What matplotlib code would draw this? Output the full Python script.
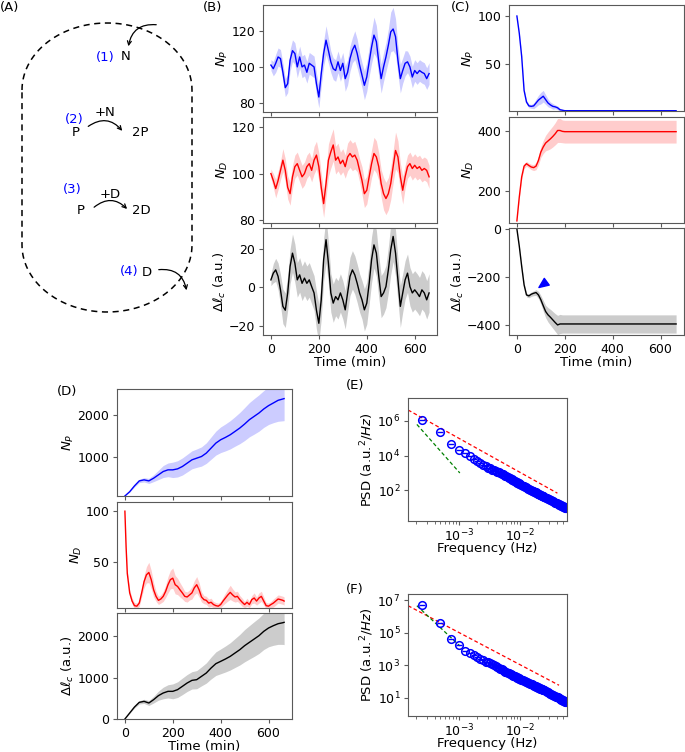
import numpy as np
import matplotlib
matplotlib.use('Agg')
import matplotlib.pyplot as plt
from matplotlib.patches import FancyArrowPatch

# ---------------- data ----------------
# Panel B (oscillating steady state), t = 0..660 min step 10
t_b = np.arange(0, 661, 10)
b_np = [101, 99, 102, 105.5, 104.6, 97, 88.5, 90.7, 103.7, 109,
        107.4, 100, 105.5, 100, 101, 97, 102, 101, 100, 90.7,
        83.3, 96.3, 107.4, 114.8, 109, 102.8, 99, 98, 102.8, 98,
        102, 93.5, 97, 104.6, 109.3, 112, 107.4, 101, 95.4, 89.8,
        94.4, 102.8, 111, 117.6, 114, 102.8, 93.5, 100, 105.5, 112,
        119.4, 121, 116.7, 103.7, 93.5, 98, 102, 102.8, 100, 94.4,
        98, 96.3, 98, 97, 96.3, 93.5, 96.3]
b_np_hw = [3, 4, 5, 5, 5, 5, 5, 5, 6, 6, 6, 6, 6, 6, 6, 6, 6, 6, 6, 6,
           6, 7, 7, 8, 7, 6, 6, 6, 6, 6, 6, 7, 7, 7, 7, 8, 8, 7, 7, 8,
           8, 8, 9, 10, 9, 8, 8, 8, 8, 9, 11, 12, 10, 8, 8, 7, 7, 6, 6, 6,
           6, 6, 6, 6, 6, 6, 6]
b_nd = [100, 97, 93.5, 97, 101.4, 105.8, 101.4, 94, 91.3, 98.6,
        103, 104.3, 101.4, 98.6, 100, 103, 104.3, 101.4, 105.8, 108,
        103, 94, 87, 95.7, 105.8, 109.4, 112.4, 105.8, 107.2, 104.3,
        105.8, 103, 107.2, 108.7, 107.2, 108, 105.8, 101.4, 97, 91.3,
        92.8, 98.6, 104.3, 108.7, 107.2, 103, 95.7, 91.3, 89.2, 91.3,
        95.7, 103, 110, 107.2, 98.6, 92.8, 98.6, 103, 104.3, 102.2,
        103.6, 102.2, 103, 101.4, 102.2, 101.4, 98.6]
b_nd_hw = [2, 3, 4, 4, 4, 5, 5, 5, 5, 5, 5, 5, 5, 5, 5, 5, 5, 5, 6, 6,
           6, 6, 6, 6, 7, 7, 7, 6, 6, 5, 5, 5, 6, 6, 6, 6, 5, 5, 6, 6,
           6, 6, 6, 7, 7, 6, 6, 7, 7, 7, 7, 7, 8, 7, 6, 6, 5, 5, 5, 5,
           5, 5, 5, 5, 5, 5, 5]
b_dl = [3.8, 7.3, 9, 5.6, -1.4, -10, -12, -3, 10.8, 17.7,
        12.5, 3.8, 6.4, 2, 4.7, 2, 3.8, 0.3, -3, -12,
        -18.8, -6.6, 14.3, 24.7, 12.5, -3, -8.3, -4.9, -6.6, -3,
        -6.6, -11.8, -3, 5.6, 9, 6.4, 2, -3, -6.6, -11.8,
        -8.3, 2, 14.3, 22, 17.7, 5.6, -4.9, -3, 0.3, 9,
        19.5, 26.4, 17.7, 3.8, -10, -3, 3.8, 7.3, 0.3, -3,
        -1.4, -3, -4.9, -1.4, -3, -6.6, -3]
b_dl_hw = [3, 5, 6, 7, 8, 9, 9, 9, 9, 10, 10, 9, 9, 9, 9, 9, 9, 9, 9, 10,
           10, 10, 11, 12, 11, 10, 10, 10, 10, 10, 10, 10, 10, 10, 10, 10, 10, 10, 10, 11,
           11, 11, 12, 12, 12, 11, 11, 11, 11, 12, 13, 13, 12, 11, 11, 10, 10, 10, 10, 10,
           10, 10, 10, 10, 10, 10, 10]

# Panel C (extinction of P)
t_c = [0, 10, 20, 30, 40, 50, 60, 70, 80, 90, 100, 110, 120, 130, 140, 150, 160,
       170, 180, 190, 200, 250, 300, 350, 400, 450, 500, 550, 600, 650, 665]
c_np = [100, 82, 58, 23, 11, 7, 6.5, 7, 10, 13, 15, 17, 13.5, 10, 8, 6.5, 6,
        5, 3, 2.5, 2, 2, 2, 2, 2, 2, 2, 2, 2, 2, 2]
c_np_hw = [0, 1, 2, 2, 2, 2, 2, 3, 4, 5, 6, 6, 5, 4, 3, 3, 2,
           2, 1.5, 1, 0.5, 0, 0, 0, 0, 0, 0, 0, 0, 0, 0]
c_nd = [100, 180, 247, 283, 291, 285, 280, 278, 283, 302, 330, 347, 360, 367, 374, 382, 391,
        402, 402, 399, 398, 398, 398, 398, 398, 398, 398, 398, 398, 398, 398]
c_nd_hw = [0, 5, 8, 8, 8, 8, 9, 10, 12, 15, 18, 22, 26, 30, 33, 35, 37,
           40, 40, 38, 38, 38, 38, 38, 38, 38, 38, 38, 38, 38, 38]
c_dl = [0, -72, -156, -233, -275, -279, -272, -268, -265, -275, -295, -320, -344, -358, -368, -379, -390,
        -400, -396, -396, -396, -396, -396, -396, -396, -396, -396, -396, -396, -396, -396]
c_dl_hw = [0, 3, 6, 8, 8, 8, 9, 10, 12, 15, 18, 22, 26, 30, 33, 35, 37,
           40, 40, 38, 38, 38, 38, 38, 38, 38, 38, 38, 38, 38, 38]

# Panel D (runaway growth of P)
t_d = list(range(0, 661, 20)) + [665]
d_np = [100, 200, 336, 453, 477, 453, 516, 594, 672, 711, 711, 734, 789, 867, 945, 984, 1023,
        1102, 1219, 1336, 1414, 1469, 1531, 1609, 1688, 1781, 1883, 1961, 2039, 2133, 2211,
        2273, 2336, 2367, 2375]
d_np_hw = [0, 10, 25, 40, 50, 60, 80, 110, 140, 160, 180, 190, 200, 205, 210, 215, 225,
           240, 260, 280, 300, 315, 330, 345, 365, 385, 400, 415, 425, 430, 440,
           460, 490, 510, 515]
d_dl = [0, 145, 290, 403, 427, 387, 468, 565, 629, 669, 669, 710, 790, 871, 935, 952, 1032,
        1113, 1234, 1339, 1395, 1452, 1516, 1597, 1677, 1774, 1855, 1935, 2016, 2121, 2202,
        2258, 2306, 2330, 2339]
d_dl_hw = [0, 10, 25, 40, 50, 60, 80, 110, 140, 160, 180, 190, 200, 205, 210, 220, 230,
           245, 265, 285, 300, 315, 330, 350, 370, 390, 405, 420, 430, 440, 455,
           475, 500, 525, 540]
t_dn = [0, 5] + list(range(10, 661, 10)) + [665]
d_nd = [100, 65, 39, 20, 12, 7.5, 7, 10, 20, 31, 37.7, 40, 33, 23, 16.6, 12.7, 14, 16.6, 21.4, 28,
        33, 34.4, 28, 26.3, 23, 20, 16.6, 16, 18, 20, 25, 28, 23, 16, 13.4, 12.7, 10, 10.8, 8.6, 7.5,
        7, 8.6, 12, 15, 18, 20.5, 18, 16, 16.6, 13.4, 10.8, 8.6, 10.8, 8.6, 13.4, 15, 12, 15, 16.6, 12,
        7.5, 7, 8.6, 10, 12, 14, 13.4, 12.7, 12]
d_nd_hw = [0, 2, 3, 3, 3, 3, 3, 3, 4, 6, 8, 10, 9, 7, 5, 4, 4, 5, 6, 8,
           9, 10, 9, 8, 7, 6, 5, 5, 5, 6, 7, 8, 7, 5, 4, 4, 4, 4, 3, 3,
           3, 3, 4, 5, 6, 7, 6, 5, 5, 4, 4, 3, 4, 3, 4, 5, 4, 5, 5, 4,
           3, 3, 3, 4, 4, 4, 4, 4, 4]

# Panels E/F: power spectral densities (frequency index k, df = 2.5e-4 Hz)
df = 2.5e-4
k_idx = np.r_[1:41, 42:101:2, 105:231:5]
e_logpsd = [6.02, 5.37, 4.66, 4.33, 4.12, 3.98, 3.83, 3.70, 3.55, 3.45,
            3.38, 3.31, 3.27, 3.20, 3.17, 3.11, 3.07, 3.04, 2.99, 2.95,
            2.92, 2.87, 2.83, 2.80, 2.76, 2.72, 2.70, 2.66, 2.63, 2.61,
            2.57, 2.54, 2.53, 2.49, 2.46, 2.44, 2.43, 2.40, 2.37, 2.36,
            2.30, 2.27, 2.23, 2.19, 2.17, 2.13, 2.10, 2.08, 2.05, 2.02,
            1.99, 1.98, 1.94, 1.92, 1.91, 1.88, 1.86, 1.83, 1.82, 1.79,
            1.78, 1.76, 1.73, 1.72, 1.70, 1.69, 1.66, 1.65, 1.64, 1.62,
            1.58, 1.56, 1.51, 1.48, 1.46, 1.42, 1.39, 1.37, 1.33, 1.30,
            1.29, 1.25, 1.23, 1.22, 1.18, 1.16, 1.15, 1.12, 1.10, 1.08,
            1.06, 1.04, 1.03, 1.01, 0.99, 0.97]
f_logpsd = [6.69, 5.60, 4.59, 4.24, 3.89, 3.75, 3.60, 3.48, 3.38, 3.30,
            3.22, 3.16, 3.10, 3.04, 2.98, 2.94, 2.90, 2.84, 2.79, 2.74,
            2.69, 2.64, 2.60, 2.56, 2.53, 2.50, 2.46, 2.43, 2.41, 2.38,
            2.35, 2.32, 2.30, 2.28, 2.25, 2.23, 2.21, 2.18, 2.16, 2.14,
            2.09, 2.06, 2.04, 2.00, 1.97, 1.93, 1.91, 1.89, 1.85, 1.83,
            1.81, 1.78, 1.75, 1.74, 1.71, 1.69, 1.67, 1.65, 1.63, 1.61,
            1.59, 1.57, 1.56, 1.54, 1.52, 1.50, 1.49, 1.47, 1.46, 1.44,
            1.40, 1.36, 1.32, 1.29, 1.25, 1.21, 1.18, 1.15, 1.12, 1.09,
            1.06, 1.03, 1.01, 0.98, 0.95, 0.93, 0.91, 0.88, 0.86, 0.84,
            0.82, 0.80, 0.78, 0.76, 0.74, 0.72]
# reference power-law guide lines (log10 f, log10 PSD endpoints)
e_red = ([-3.83, -1.39], [6.62, 1.84])
e_green = ([-3.686, -2.984], [5.79, 3.00])
f_red = ([-3.83, -1.363], [6.65, 1.76])
f_green = ([-3.686, -2.984], [6.65, 4.18])

# ---------------- style ----------------
plt.rcParams.update({
    'font.size': 9.5,
    'axes.linewidth': 0.8,
    'axes.edgecolor': '0.35',
    'axes.labelpad': 1.0,
    'xtick.color': '0.35', 'ytick.color': '0.35',
    'xtick.labelcolor': 'black', 'ytick.labelcolor': 'black',
    'xtick.labelsize': 9, 'ytick.labelsize': 9,
    'xtick.major.size': 3, 'ytick.major.size': 3,
    'xtick.major.pad': 2.5, 'ytick.major.pad': 2.5,
    'xtick.minor.size': 1.8,
})

W, H = 685, 752
fig = plt.figure(figsize=(W / 100, H / 100), dpi=100)


def add_ax(x0, y0, x1, y1):
    return fig.add_axes([x0 / W, 1 - y1 / H, (x1 - x0) / W, (y1 - y0) / H])


def ts_panel(ax, t, m, hw, color, ylim, yticks, ylabel, xlim, xlabel=False):
    t = np.asarray(t, float)
    m = np.asarray(m, float)
    hw = np.asarray(hw, float)
    ax.fill_between(t, m - hw, m + hw, color=color, alpha=0.2, lw=0)
    ax.plot(t, m, color=color, lw=1.0)
    ax.set_xlim(*xlim)
    ax.set_ylim(*ylim)
    ax.set_yticks(yticks)
    ax.set_xticks([0, 200, 400, 600])
    ax.set_ylabel(ylabel)
    if xlabel:
        ax.set_xlabel('Time (min)', labelpad=0)
    else:
        ax.tick_params(labelbottom=False)


LNP = r'$N_P$'
LND = r'$N_D$'
LDL = r'$\Delta\ell_c$ (a.u.)'

# Panel B
xl_b = (-33, 693)
ax = add_ax(263, 5, 437, 112)
ts_panel(ax, t_b, b_np, b_np_hw, 'blue', (75, 134.3), [80, 100, 120], LNP, xl_b)
ax = add_ax(263, 117, 437, 223)
ts_panel(ax, t_b, b_nd, b_nd_hw, 'red', (78.6, 124.5), [80, 100, 120], LND, xl_b)
ax = add_ax(263, 228, 437, 335)
ts_panel(ax, t_b, b_dl, b_dl_hw, 'black', (-24.9, 30.8), [-20, 0, 20], LDL, xl_b, xlabel=True)

# Panel C
xl_c = (-33, 698)
ax = add_ax(509, 5, 684, 111)
ts_panel(ax, t_c, c_np, c_np_hw, 'blue', (1.7, 111.4), [50, 100], LNP, xl_c)
ax = add_ax(509, 117, 684, 223)
ts_panel(ax, t_c, c_nd, c_nd_hw, 'red', (93, 447), [200, 400], LND, xl_c)
ax = add_ax(509, 228, 684, 335)
ts_panel(ax, t_c, c_dl, c_dl_hw, 'black', (-442, 4), [-400, -200, 0], LDL, xl_c, xlabel=True)
ax.annotate('', xy=(92, -244), xytext=(122, -222),
            arrowprops=dict(facecolor='blue', edgecolor='blue', width=0.01,
                            headwidth=6, headlength=7, shrink=0))

# Panel D
ax = add_ax(117, 389, 292, 496)
ts_panel(ax, t_d, d_np, d_np_hw, 'blue', (100, 2600), [1000, 2000], LNP, xl_c)
ax = add_ax(117, 502, 292, 608)
ts_panel(ax, t_dn, d_nd, d_nd_hw, 'red', (5.2, 109), [50, 100], LND, xl_c)
ax = add_ax(117, 613, 292, 719)
ts_panel(ax, t_d, d_dl, d_dl_hw, 'black', (0, 2565), [0, 1000, 2000], LDL, xl_c, xlabel=True)


# Panels E, F
def psd_panel(ax, logpsd, red, green, ylim, yticks):
    f = k_idx * df
    p = 10 ** np.asarray(logpsd)
    ax.plot(10 ** np.asarray(red[0]), 10 ** np.asarray(red[1]), '--', color='red', lw=0.9, dashes=(3, 2))
    ax.plot(10 ** np.asarray(green[0]), 10 ** np.asarray(green[1]), '--', color='green', lw=0.9, dashes=(3, 2))
    ax.plot(f, p, 'o', ms=5.5, mfc='none', mec='blue', mew=1.1)
    ax.plot(f, p, '_', ms=5, mec='blue', mew=1.0)
    ax.set_xscale('log')
    ax.set_yscale('log')
    ax.set_xlim(1.475e-4, 0.0585)
    ax.set_ylim(*ylim)
    ax.set_yticks(yticks)
    ax.yaxis.set_minor_locator(matplotlib.ticker.NullLocator())
    ax.set_xticks([1e-3, 1e-2])
    ax.tick_params(axis='x', which='major', pad=1.5)
    ax.set_xlabel('Frequency (Hz)', labelpad=-1)
    ax.set_ylabel(r'PSD (a.u.$^2$/$Hz$)')


ax = add_ax(408, 398, 567, 521)
psd_panel(ax, e_logpsd, e_red, e_green, (1.74, 2.04e7), [1e2, 1e4, 1e6])
ax = add_ax(408, 594, 567, 716)
psd_panel(ax, f_logpsd, f_red, f_green, (0.74, 2.35e7), [1e1, 1e3, 1e5, 1e7])

# Panel A schematic + panel letters (pixel coordinates overlay)
axa = fig.add_axes([0, 0, 1, 1], zorder=-1)
axa.set_xlim(0, W)
axa.set_ylim(H, 0)
axa.axis('off')

cx, rx, ry, ytop, ybot = 107, 85, 67, 90, 245
th1 = np.linspace(np.pi, 0, 60)
th2 = np.linspace(0, -np.pi, 60)
xs = np.r_[cx + rx * np.cos(th1), cx + rx * np.cos(th2), cx - rx]
ys = np.r_[ytop - ry * np.sin(th1), ybot - ry * np.sin(th2), ytop]
axa.plot(xs, ys, color='black', lw=1.1, dashes=(4, 3))

txt = dict(fontsize=9.5, ha='center', va='center')
blue_txt = dict(fontsize=9.5, ha='center', va='center', color='blue')
axa.text(105, 57, '(1)', **blue_txt)
axa.text(126, 57, 'N', **txt)
axa.text(74, 119, '(2)', **blue_txt)
axa.text(105, 113, '+N', **txt)
axa.text(76, 132, 'P', **txt)
axa.text(140, 132, '2P', **txt)
axa.text(72, 190, '(3)', **blue_txt)
axa.text(110, 194, '+D', **txt)
axa.text(81, 211, 'P', **txt)
axa.text(141, 211, '2D', **txt)
axa.text(129, 272, '(4)', **blue_txt)
axa.text(147, 272, 'D', **txt)

for (p0, p1, rad) in [((159, 25), (128, 49), 0.5),
                      ((86, 128), (124, 133), -0.5),
                      ((92, 209), (129, 211), -0.5),
                      ((156, 270), (187, 293), -0.5)]:
    axa.add_patch(FancyArrowPatch(p0, p1, connectionstyle=f'arc3,rad={rad}',
                                  arrowstyle='->', mutation_scale=7, lw=0.9, color='black'))

lab = dict(fontsize=9.5, ha='left', va='center')
axa.text(0, 8, '(A)', **lab)
axa.text(203, 8, '(B)', **lab)
axa.text(451, 8, '(C)', **lab)
axa.text(57, 391, '(D)', **lab)
axa.text(346, 386, '(E)', **lab)
axa.text(346, 589, '(F)', **lab)

fig.savefig('out.png', dpi=100)
